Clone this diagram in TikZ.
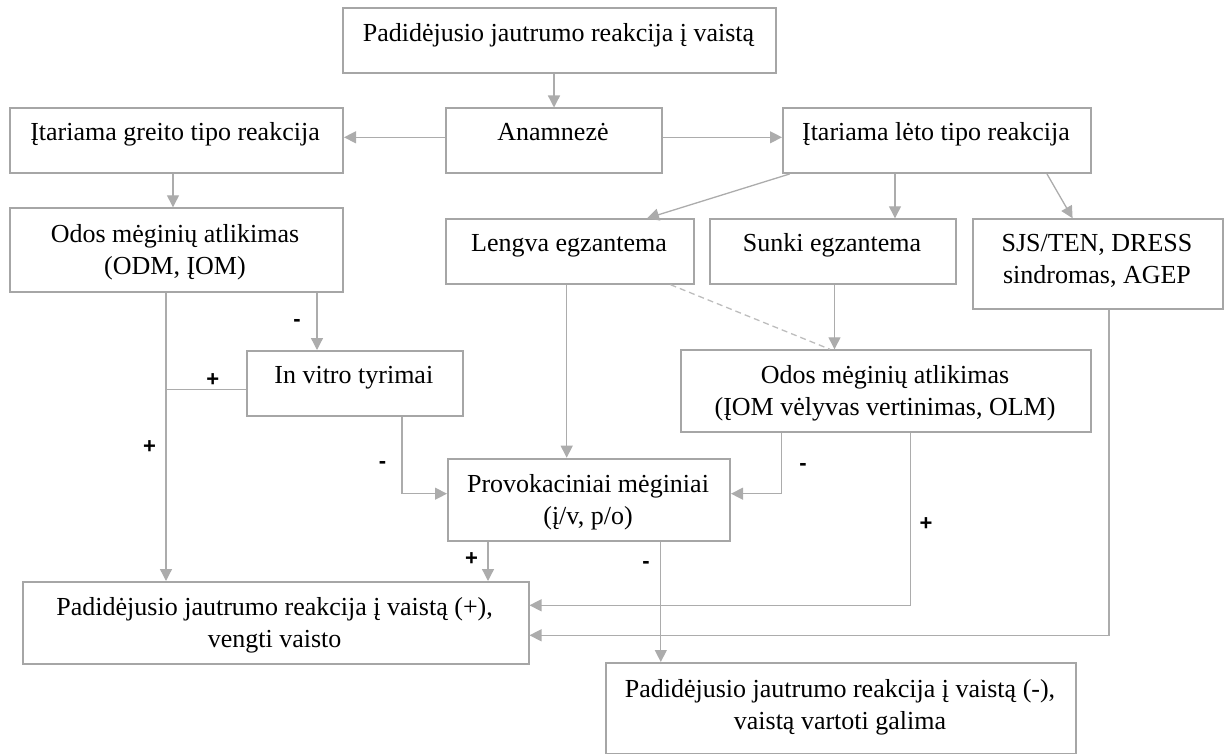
\documentclass[tikz,border=0pt]{standalone}
\usepackage{fontspec}
\setmainfont{Liberation Serif}
\newfontfamily\labfont{Liberation Sans}
\usetikzlibrary{arrows.meta}
\definecolor{edge}{RGB}{166,166,166}
\definecolor{wire}{RGB}{172,172,172}
\newcommand\lines[1]{\begin{tabular}[t]{@{}c@{}}#1\end{tabular}}

\begin{document}
\begin{tikzpicture}[x=1pt,y=-1pt,
  box/.style={draw=edge, line width=2pt, rectangle, inner sep=0pt, anchor=north west},
  txt/.style={anchor=base, inner sep=0pt, font=\fontsize{26}{32}\selectfont},
  arr/.style={draw=wire, line width=1.3pt, -{Triangle[length=12pt,width=12pt]}},
  link/.style={draw=wire, line width=1.3pt},
  sign/.style={inner sep=0pt, font=\labfont\bfseries\fontsize{22}{22}\selectfont}]

\useasboundingbox (0,0) rectangle (1224,754);

% boxes
\node[box, minimum width=433pt, minimum height=65pt]   (top)    at (342,7.5)   {};
\node[box, minimum width=216pt, minimum height=65pt]   (anam)   at (445,107.5) {};
\node[box, minimum width=333.5pt, minimum height=65pt] (greito) at (8.5,107.5) {};
\node[box, minimum width=308pt, minimum height=64.5pt] (leto)   at (782,107.5) {};
\node[box, minimum width=333.5pt, minimum height=83.4pt] (odosL) at (8.5,207.3) {};
\node[box, minimum width=248pt, minimum height=64.4pt] (lengva) at (445,218.3) {};
\node[box, minimum width=246pt, minimum height=64.4pt] (sunki)  at (709,218.3) {};
\node[box, minimum width=250pt, minimum height=90pt]   (sjs)    at (972,218.3) {};
\node[box, minimum width=215.7pt, minimum height=65.3pt] (invitro) at (246,350) {};
\node[box, minimum width=410pt, minimum height=81.7pt] (odosR)  at (680,349.3) {};
\node[box, minimum width=282pt, minimum height=82.6pt] (provok) at (447,457.7) {};
\node[box, minimum width=506pt, minimum height=81.7pt] (padidP) at (21.5,581)  {};
\node[box, minimum width=470pt, minimum height=90.5pt] (padidM) at (605,662)   {};

% box texts
\node[txt] (top-t)    at (558.5,41.5) {Padidėjusio jautrumo reakcija į vaistą};
\node[txt] (anam-t)   at (553,141)    {Anamnezė};
\node[txt] (greito-t) at (175,141)    {Įtariama greito tipo reakcija};
\node[txt] (leto-t)   at (936,141)    {Įtariama lėto tipo reakcija};
\node[txt] (odosL-t)  at (175,242.7)  {\lines{Odos mėginių atlikimas\\(ODM, ĮOM)}};
\node[txt] (lengva-t) at (569,251.5)  {Lengva egzantema};
\node[txt] (sunki-t)  at (832,251.5)  {Sunki egzantema};
\node[txt] (sjs-t)    at (1097,251.7) {\lines{SJS/TEN, DRESS\\sindromas, AGEP}};
\node[txt] (invitro-t) at (353.8,383.5) {In vitro tyrimai};
\node[txt] (odosR-t)  at (885,383)    {\lines{Odos mėginių atlikimas\\(ĮOM vėlyvas vertinimas, OLM)}};
\node[txt] (provok-t) at (588,492)    {\lines{Provokaciniai mėginiai\\(į/v, p/o)}};
\node[txt] (padidP-t) at (274.6,615)  {\lines{Padidėjusio jautrumo reakcija į vaistą (+),\\vengti vaisto}};
\node[txt] (padidM-t) at (840,697)    {\lines{Padidėjusio jautrumo reakcija į vaistą (-),\\vaistą vartoti galima}};

% connectors
\draw[arr] (top.south -| 554,0) -- (anam.north -| 554,0);
\draw[arr] (anam.west |- 0,137.3) -- (greito.east |- 0,137.3);
\draw[arr] (anam.east |- 0,137.3) -- (leto.west |- 0,137.3);
\draw[arr] (greito.south -| 173,0) -- (odosL.north -| 173,0);
\draw[arr] (leto.south -| 789.6,0) -- (lengva.north -| 647,0);
\draw[arr] (leto.south -| 895,0) -- (sunki.north -| 895,0);
\draw[arr] (leto.south -| 1047,0) -- (sjs.north -| 1072.6,0);
\draw[arr] (odosL.south -| 317,0) -- (invitro.north -| 317,0);
\draw[arr] (odosL.south -| 166,0) -- (padidP.north -| 166,0);
\coordinate (j1) at (166,389.7);
\draw[link] (invitro.west |- j1) -- (j1);
\draw[arr] (invitro.south -| 402,0) |- (provok.west |- 0,493.7);
\draw[arr] (lengva.south -| 566.7,0) -- (provok.north -| 566.7,0);
\draw[arr] (sunki.south -| 834.5,0) -- (odosR.north -| 834.5,0);
\draw[link, draw=wire!80, dash pattern=on 6pt off 4pt] (lengva.south -| 670.5,0) -- (odosR.north -| 830,0);
\draw[arr] (odosR.south -| 781.8,0) |- (provok.east |- 0,493.7);
\draw[arr] (odosR.south -| 910.6,0) |- (padidP.east |- 0,605.3);
\draw[arr] (sjs.south -| 1109,0) |- (padidP.east |- 0,635.3);
\draw[arr] (provok.south -| 488,0) -- (padidP.north -| 488,0);
\draw[arr] (provok.south -| 660.8,0) -- (padidM.north -| 660.8,0);

% branch signs
\node[sign] (s1) at (297,323)     {-};
\node[sign] (s2) at (212.7,380)   {+};
\node[sign] (s3) at (149.5,447)   {+};
\node[sign] (s4) at (382.5,465)   {-};
\node[sign] (s5) at (803,467)     {-};
\node[sign] (s6) at (926,523.7)   {+};
\node[sign] (s7) at (471.5,558.7) {+};
\node[sign] (s8) at (646,565.3)   {-};
\end{tikzpicture}
\end{document}
